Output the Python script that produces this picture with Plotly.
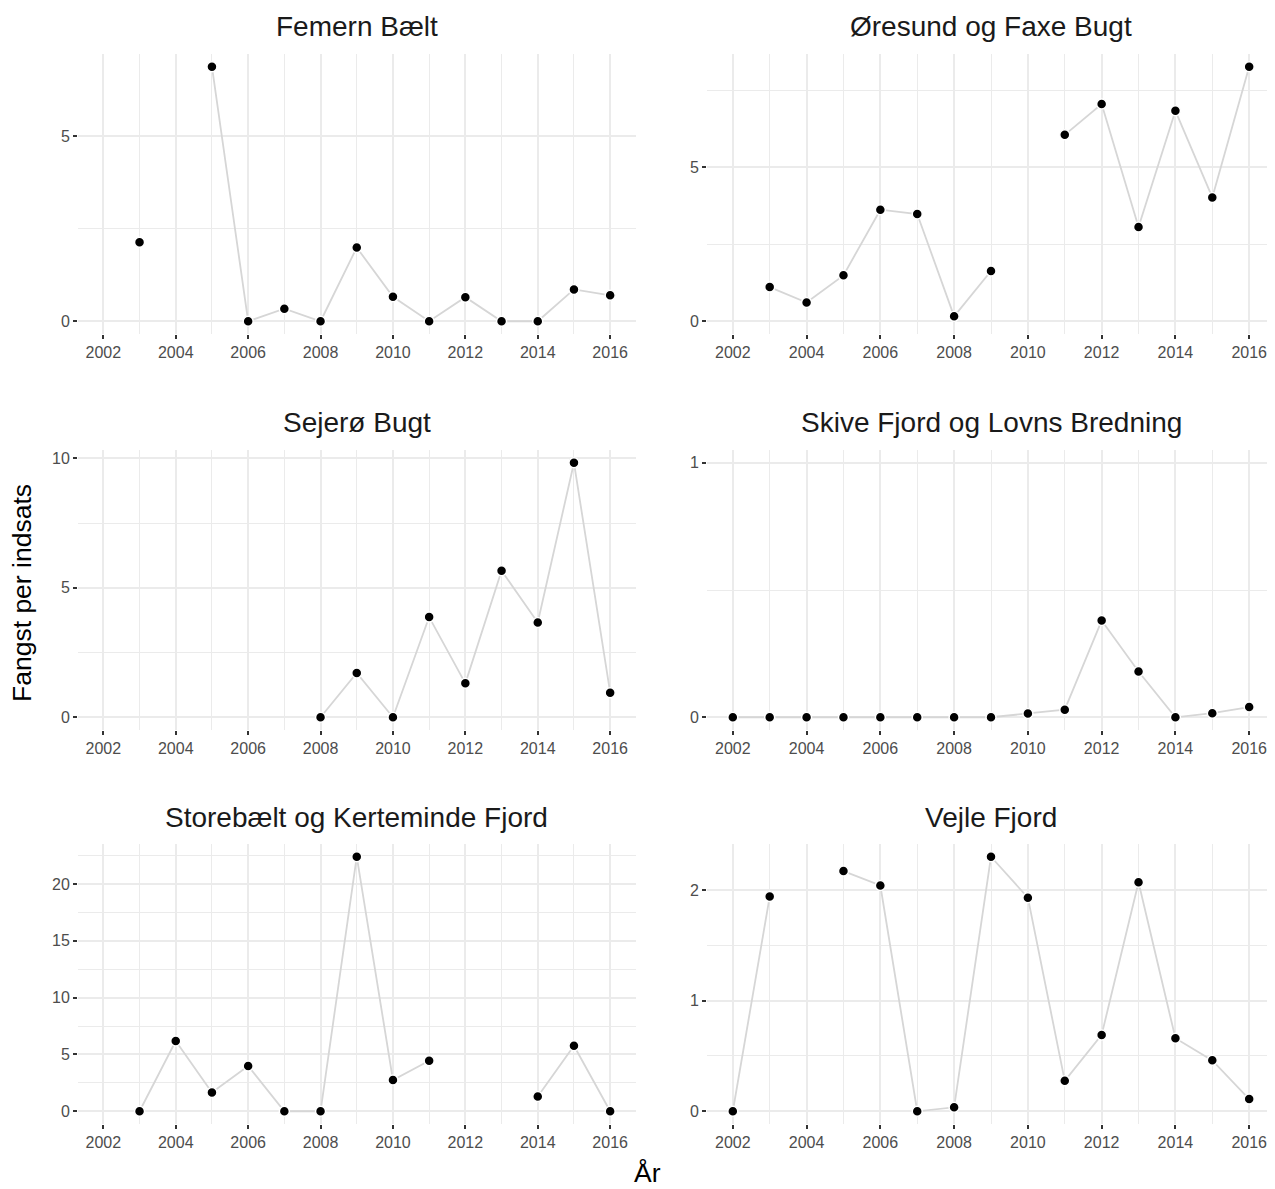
import plotly.graph_objects as go

# ---------------- data ----------------
years = list(range(2002, 2017))
regions = [
    "Femern Bælt",
    "Øresund og Faxe Bugt",
    "Sejerø Bugt",
    "Skive Fjord og Lovns Bredning",
    "Storebælt og Kerteminde Fjord",
    "Vejle Fjord",
]
femern = [None, 2.13, None, 6.87, 0, 0.34, 0, 1.99, 0.66, 0, 0.65, 0, 0, 0.86, 0.70]
oresund = [None, 1.11, 0.61, 1.49, 3.62, 3.48, 0.16, 1.63, None, 6.05, 7.05, 3.06, 6.83, 4.02, 8.26]
sejero = [None, None, None, None, None, None, 0, 1.71, 0, 3.87, 1.31, 5.66, 3.66, 9.83, 0.95]
skive = [0, 0, 0, 0, 0, 0, 0, 0, 0.015, 0.03, 0.38, 0.18, 0, 0.016, 0.04]
storebaelt = [None, 0, 6.18, 1.66, 3.99, 0, 0, 22.4, 2.75, 4.44, None, None, 1.30, 5.77, 0]
vejle = [0, 1.94, None, 2.17, 2.04, 0, 0.036, 2.30, 1.93, 0.275, 0.69, 2.07, 0.66, 0.46, 0.11]
series = [femern, oresund, sejero, skive, storebaelt, vejle]
y_upper_limit = [None, None, None, 1, None, None]   # expand_limits per panel
y_dtick = [5, 5, 5, 1, 5, 1]
x_tick_vals = list(range(2002, 2017, 2))
y_title = "Fangst per indsats"
x_title = "År"

# ---------------- layout geometry (screen pixels) ----------------
W, H = 1275, 1189
PAGE_OFF = 8  # default body margin of the html page
col_x = [(78, 635.5), (707, 1275)]
row_y = [(54, 334), (450, 730), (844, 1124)]


def fx(px):
    return (px - PAGE_OFF) / W


def fy(py):
    return 1 - (py - PAGE_OFF) / H


FONT = "Liberation Sans, Arial, sans-serif"
GRID = "#EBEBEB"

fig = go.Figure()
annotations = []
layout_axes = {}

for i, (name, vals) in enumerate(zip(regions, series)):
    r, c = divmod(i, 2)
    x0, x1 = col_x[c]
    top, bot = row_y[r]
    xd = [fx(x0), min(fx(x1), 1.0)]
    yd = [fy(bot), fy(top)]
    k = "" if i == 0 else str(i + 1)

    present = [v for v in vals if v is not None]
    lo = min(present + [0])
    hi = max(present)
    if y_upper_limit[i] is not None:
        hi = max(hi, y_upper_limit[i])
    pad = 0.05 * (hi - lo)
    span = years[-1] - years[0]
    xr = [years[0] - 0.05 * span, years[-1] + 0.05 * span]

    fig.add_trace(go.Scatter(
        x=years, y=vals, mode="lines",
        line=dict(color="#D6D6D6", width=1.8),
        connectgaps=False, showlegend=False, hoverinfo="skip",
        xaxis="x" + k, yaxis="y" + k,
    ))
    fig.add_trace(go.Scatter(
        x=years, y=vals, mode="markers",
        marker=dict(color="black", size=10, line=dict(color="white", width=1.5)),
        showlegend=False, xaxis="x" + k, yaxis="y" + k,
    ))

    layout_axes["xaxis" + k] = dict(
        domain=xd, range=xr, anchor="y" + k,
        tickmode="array", tickvals=x_tick_vals,
        ticks="outside", ticklen=4, tickwidth=1.5, tickcolor="#333333",
        tickfont=dict(family=FONT, size=16, color="#4D4D4D"),
        showgrid=True, gridcolor=GRID, gridwidth=1.6,
        minor=dict(dtick=1, tick0=2002, showgrid=True, gridcolor=GRID, gridwidth=0.9),
        zeroline=False, showline=False,
    )
    d = y_dtick[i]
    layout_axes["yaxis" + k] = dict(
        domain=yd, range=[lo - pad, hi + pad], anchor="x" + k,
        tick0=0, dtick=d,
        ticks="outside", ticklen=4, tickwidth=1.5, tickcolor="#333333",
        tickfont=dict(family=FONT, size=16, color="#4D4D4D"),
        showgrid=True, gridcolor=GRID, gridwidth=1.6,
        minor=dict(dtick=d / 2, tick0=0, showgrid=True, gridcolor=GRID, gridwidth=0.9),
        zeroline=False, showline=False,
    )
    annotations.append(dict(
        text=name, xref="paper", yref="paper",
        x=fx((x0 + x1) / 2), y=fy(top - 27),
        xanchor="center", yanchor="middle", showarrow=False,
        font=dict(family=FONT, size=28, color="#1A1A1A"),
    ))

annotations.append(dict(
    text=y_title, xref="paper", yref="paper",
    x=fx(22), y=fy(593), textangle=-90,
    xanchor="center", yanchor="middle", showarrow=False,
    font=dict(family=FONT, size=26.5, color="black"),
))
annotations.append(dict(
    text=x_title, xref="paper", yref="paper",
    x=fx(647), y=fy(1173),
    xanchor="center", yanchor="middle", showarrow=False,
    font=dict(family=FONT, size=26.5, color="black"),
))

fig.update_layout(
    width=W, height=H,
    margin=dict(l=0, r=0, t=0, b=0),
    paper_bgcolor="white", plot_bgcolor="white",
    annotations=annotations,
    **layout_axes,
)

fig.write_html("out.html")
